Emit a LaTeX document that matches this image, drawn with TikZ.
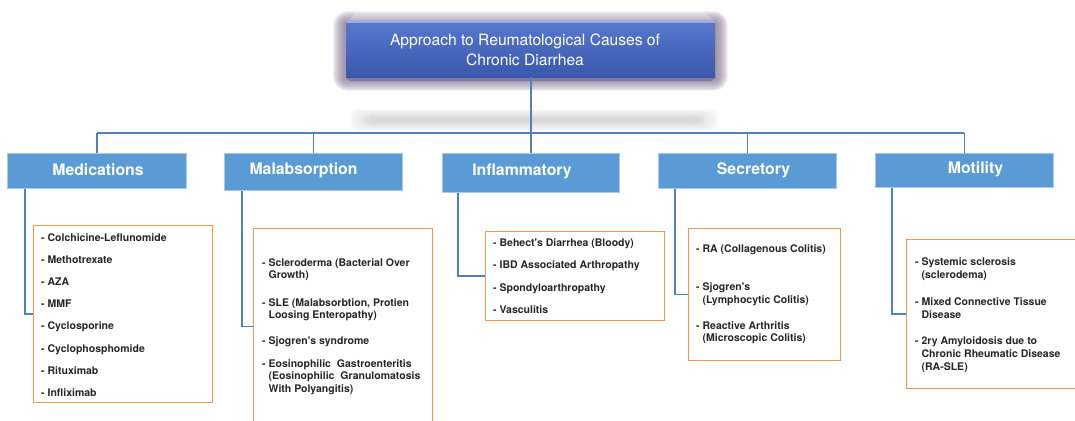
\documentclass[tikz,border=0pt]{standalone}
\usepackage{fontspec}
\setmainfont{TeX Gyre Heros}
\usetikzlibrary{calc}
\definecolor{catblue}{HTML}{5B9BD5}
\definecolor{catedge}{HTML}{A9C8EB}
\definecolor{connblue}{HTML}{4F81BD}
\definecolor{listorange}{HTML}{F79646}
\definecolor{itemgray}{HTML}{262626}
\definecolor{rootTop}{HTML}{5677CC}
\definecolor{rootBot}{HTML}{3A58AC}
\definecolor{glowc}{HTML}{8A7893}
\newcommand{\apos}{\textquotesingle}
\begin{document}
\begin{tikzpicture}[x=1pt,y=-1pt,
  catbox/.style={fill=catblue, draw=catedge, line width=0.8pt, anchor=north west, inner sep=0pt},
  listbox/.style={draw=listorange, line width=1.3pt, anchor=north west, inner sep=0pt},
  item/.style={anchor=base west, align=left, font=\bfseries\fontsize{10.5}{12.7}\selectfont, text=itemgray, inner sep=0pt},
  cattitle/.style={font=\bfseries\fontsize{15.8}{18}\selectfont, text=white, inner sep=0pt},
  conn/.style={draw=connblue, line width=1.6pt},
  roottitle/.style={font=\fontsize{15.6}{20}\selectfont, text=white, align=center, inner sep=0pt}]
\useasboundingbox (0,0) rectangle (1075,420);
\clip (0,0) rectangle (1075,420);
% glow behind root
\foreach \i in {1,...,7}{
  \fill[glowc, opacity=0.19, rounded corners=2*\i] (346-1.8*\i,24-1.8*\i) rectangle (715+1.8*\i,78+1.8*\i);
}
% soft shadow below root
\foreach \i in {1,...,9}{
  \fill[black!60, opacity=0.03, rounded corners=8] (372-2.5*\i,119-1.1*\i) rectangle (696+2.5*\i,121+1.1*\i);
}
% root box
\node[anchor=north west, minimum width=369pt, minimum height=54pt, inner sep=0pt, top color=rootTop, bottom color=rootBot, draw=none] (root) at (346,23) {};
\fill[white, opacity=0.25] (root.north west) -- (root.north east) -- ++(-16,-16) -- ($(root.north west)+(16,-16)$) -- cycle;
\fill[rootBot!80!black, opacity=0.35] (root.south west) -- (root.south east) -- ++(-4,4) -- ($(root.south west)+(4,4)$) -- cycle;
\fill[rootTop!60!white, opacity=0.9] (root.north west) -- (root.north east) -- ++(-4,-3) -- ($(root.north west)+(4,-3)$) -- cycle;
\node[roottitle] (roottxt) at (525,49.5) {Approach to Reumatological Causes of\\Chronic Diarrhea};
% category boxes
\node[catbox, minimum width=179pt, minimum height=35pt] (med) at (7,153) {};
\node[catbox, minimum width=178pt, minimum height=37pt] (mal) at (224,153) {};
\node[catbox, minimum width=177pt, minimum height=39pt] (inf) at (442,153) {};
\node[catbox, minimum width=178pt, minimum height=35pt] (sec) at (658,153) {};
\node[catbox, minimum width=178pt, minimum height=34pt] (mot) at (875,153) {};
\node[cattitle] (medt) at (98,169.3) {Medications};
\node[cattitle] (malt) at (303.5,170.7) {Malabsorption};
\node[cattitle] (inft) at (522,171.7) {Inflammatory};
\node[cattitle] (sect) at (753.5,170) {Secretory};
\node[cattitle] (mott) at (975.5,169) {Motility};
% list boxes
\node[listbox, minimum width=179pt, minimum height=177pt] (medl) at (33,225) {};
\node[listbox, minimum width=179pt, minimum height=196pt] (mall) at (253,228) {};
\node[listbox, minimum width=179pt, minimum height=89pt] (infl) at (485,231) {};
\node[listbox, minimum width=152pt, minimum height=132pt] (secl) at (688,228) {};
\node[listbox, minimum width=190pt, minimum height=149pt] (motl) at (906,239) {};
% connectors
\coordinate (bus) at (530,133);
\draw[conn] (root.south) -- (root.south |- bus);
\draw[conn] (med.north |- bus) -- (mot.north |- bus);
\foreach \n in {med,mal,inf,sec,mot}{
  \draw[conn] (\n.north) -- (\n.north |- bus);
}
\draw[conn] ($(med.south west)+(18,0)$) |- (medl.west);
\draw[conn] ($(mal.south west)+(18,0)$) |- (mall.west);
\draw[conn] ($(inf.south west)+(16,0)$) |- (infl.west);
\draw[conn] ($(sec.south west)+(17,0)$) |- (secl.west);
\draw[conn] ($(mot.south west)+(17,0)$) |- (motl.west);
% medications items
\node[item] (m1) at (41,241) {- Colchicine-Leflunomide};
\node[item] (m2) at (41,263.2) {- Methotrexate};
\node[item] (m3) at (41,285.4) {- AZA};
\node[item] (m4) at (41,307.6) {- MMF};
\node[item] (m5) at (41,329.8) {- Cyclosporine};
\node[item] (m6) at (41,352) {- Cyclophosphomide};
\node[item] (m7) at (41,374.2) {- Rituximab};
\node[item] (m8) at (41,396.4) {- Infliximab};
% malabsorption items (base anchor = last line)
\node[item] (a1) at (262,278.7) {- Scleroderma (Bacterial Over\\\hphantom{- }Growth)};
\node[item] (a2) at (262,318.7) {- SLE (Malabsorbtion, Protien\\\hphantom{- }Loosing Enteropathy)};
\node[item] (a3) at (262,344) {- Sjogren\apos s syndrome};
\node[item] (a4) at (262,392.4) {- Eosinophilic\hspace{3pt} Gastroenteritis\\\hphantom{- }(Eosinophilic\hspace{3pt} Granulomatosis\\\hphantom{- }With Polyangitis)};
% inflammatory items
\node[item] (i1) at (493,246) {- Behect\apos s Diarrhea (Bloody)};
\node[item] (i2) at (493,268.3) {- IBD Associated Arthropathy};
\node[item] (i3) at (493,291) {- Spondyloarthropathy};
\node[item] (i4) at (493,313.3) {- Vasculitis};
% secretory items
\node[item] (s1) at (696,252) {- RA (Collagenous Colitis)};
\node[item] (s2) at (696,303.4) {- Sjogren\apos s\\\hphantom{- }(Lymphocytic Colitis)};
\node[item] (s3) at (696,341.7) {- Reactive Arthritis\\\hphantom{- }(Microscopic Colitis)};
% motility items
\node[item] (t1) at (915,278.4) {- Systemic sclerosis\\\hphantom{- }(sclerodema)};
\node[item] (t2) at (915,318.4) {- Mixed Connective Tissue\\\hphantom{- }Disease};
\node[item] (t3) at (915,370.1) {- 2ry Amyloidosis due to\\\hphantom{- }Chronic Rheumatic Disease\\\hphantom{- }(RA-SLE)};
\end{tikzpicture}
\end{document}
